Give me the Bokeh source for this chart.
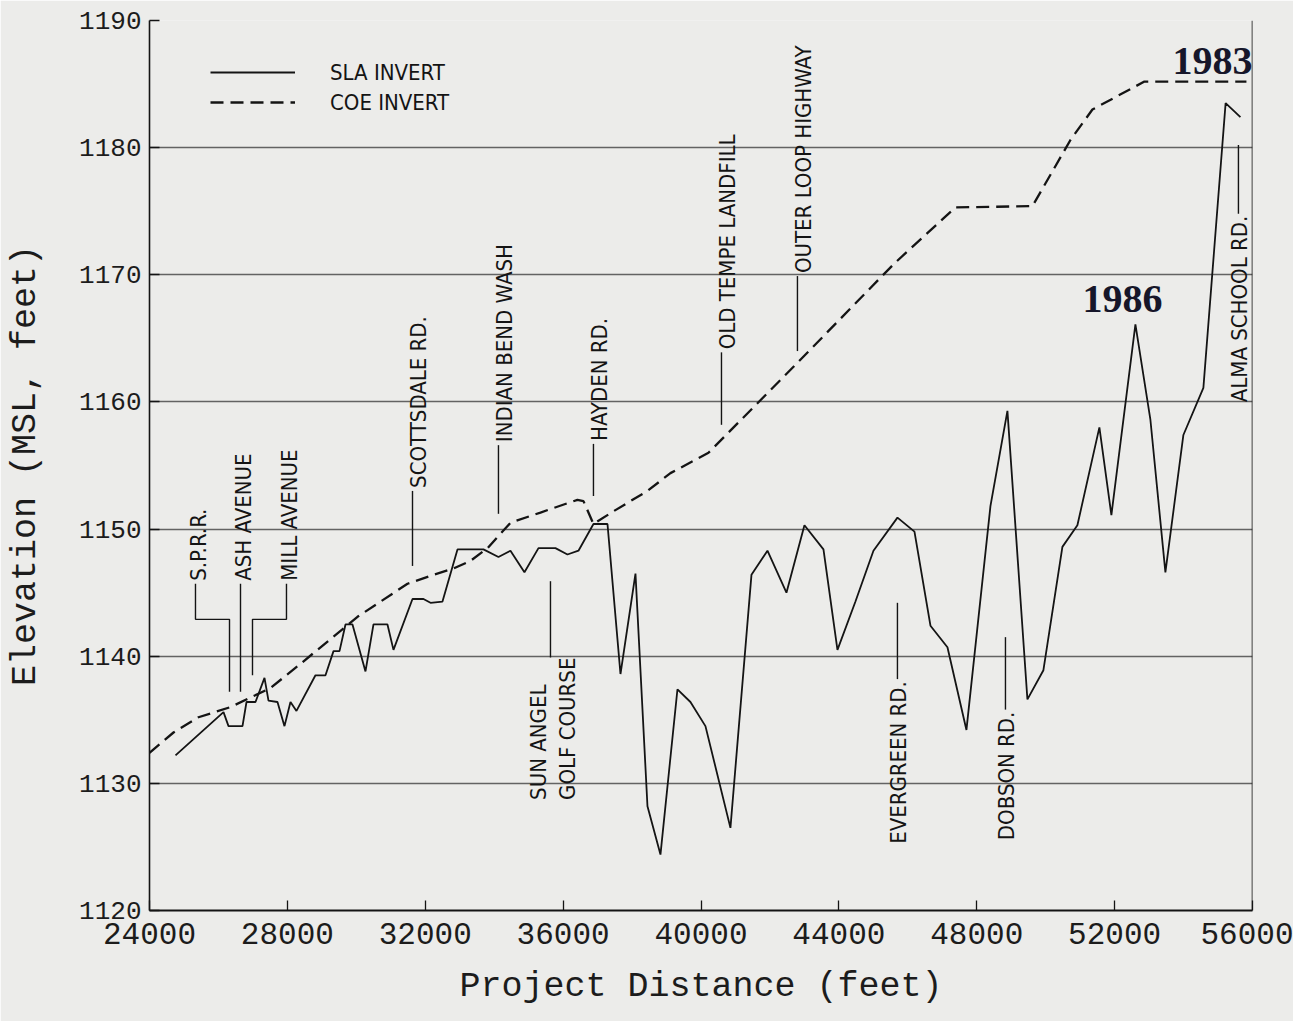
import math
from bokeh.plotting import figure
from bokeh.models import Label, Span, Legend, LegendItem, FixedTicker, Range1d
from bokeh.embed import file_html
from bokeh.resources import INLINE

# ---------------- data ----------------
sla_station = [24754, 26147, 26292, 26698, 26814, 27075, 27336, 27452, 27713, 27916,
               28090, 28264, 28815, 29106, 29338, 29512, 29686, 29889, 30266, 30498,
               30904, 31078, 31630, 31949, 32152, 32500, 32935, 33689, 34124, 34472,
               34878, 35285, 35778, 36126, 36445, 36880, 37287, 37664, 38099, 38447,
               38824, 39317, 39694, 40129, 40854, 41464, 41928, 42479, 43001, 43553,
               43959, 44481, 45003, 45700, 46193, 46657, 47150, 47701, 48397, 48890,
               49470, 49934, 50485, 50920, 51558, 51906, 52603, 53038, 53473, 53995,
               54575, 55220, 55650]
sla_elev = [1132.2, 1135.6, 1134.5, 1134.5, 1136.4, 1136.4, 1138.3, 1136.5, 1136.4, 1134.5,
            1136.4, 1135.7, 1138.5, 1138.5, 1140.4, 1140.4, 1142.5, 1142.5, 1138.8, 1142.5,
            1142.5, 1140.5, 1144.5, 1144.5, 1144.2, 1144.3, 1148.4, 1148.4, 1147.8, 1148.3,
            1146.6, 1148.5, 1148.5, 1148.0, 1148.3, 1150.4, 1150.4, 1138.6, 1146.5, 1128.2,
            1124.4, 1137.4, 1136.4, 1134.5, 1126.5, 1146.4, 1148.3, 1145.0, 1150.3, 1148.4,
            1140.5, 1144.3, 1148.3, 1150.9, 1149.8, 1142.4, 1140.7, 1134.2, 1151.8, 1159.3,
            1136.6, 1138.9, 1148.6, 1150.3, 1158.0, 1151.1, 1166.1, 1158.6, 1146.6, 1157.4,
            1161.1, 1183.5, 1182.4]

coe_station = [24000, 24696, 25421, 26350, 27510, 28380, 30034, 31485, 32239, 32819,
               33312, 33806, 34473, 35343, 36416, 36590, 36880, 37461, 38447, 39114,
               40217, 42770, 45613, 47382, 49616, 50718, 51356, 52865, 55824]
coe_elev = [1132.4, 1134.0, 1135.2, 1136.0, 1137.5, 1139.4, 1143.1, 1145.7, 1146.4, 1146.9,
            1147.5, 1148.5, 1150.5, 1151.3, 1152.3, 1152.2, 1150.4, 1151.4, 1153.0, 1154.4,
            1156.0, 1163.0, 1170.9, 1175.3, 1175.4, 1180.6, 1183.0, 1185.2, 1185.2]

x_ticks = [24000, 28000, 32000, 36000, 40000, 44000, 48000, 52000, 56000]
y_ticks = [1120, 1130, 1140, 1150, 1160, 1170, 1180, 1190]

# landmarks: name, station, leader low, leader high, side of text
landmark_names = ["SCOTTSDALE RD.", "INDIAN BEND WASH", "HAYDEN RD.", "OLD TEMPE LANDFILL",
                  "OUTER LOOP HIGHWAY", "EVERGREEN RD.", "DOBSON RD.", "ALMA SCHOOL RD."]
landmark_station = [31630, 34124, 36880, 40594, 42798, 45699, 48833, 55592]
landmark_low = [1147.1, 1151.2, 1152.6, 1158.2, 1164.0, 1138.2, 1135.8, 1174.8]
landmark_high = [1153.0, 1156.6, 1156.7, 1163.9, 1169.9, 1144.2, 1141.5, 1180.2]
landmark_side = ["above", "above", "above", "above", "above", "below", "below", "below"]

# bracketed landmarks near the start
bracket_names = ["S.P.R.R.", "ASH AVENUE", "MILL AVENUE"]
bracket_station = [26321, 26640, 26988]
bracket_label_station = [25334, 26640, 27974]
bracket_low = [1137.2, 1137.2, 1138.5]
bracket_mid = [1142.9, 1142.9, 1142.9]
bracket_top = [1145.7, 1145.7, 1145.7]

golf_names = ["SUN ANGEL", "GOLF COURSE"]
golf_station = 35633
golf_low, golf_high = 1139.9, 1145.9

# ---------------- styling ----------------
BG = "#ECECEA"
INK = "#141414"
MONO = "Liberation Mono"
NARROW = "DejaVu Sans Condensed"

p = figure(frame_width=1103, frame_height=890,
           x_range=Range1d(24000, 56000), y_range=Range1d(1120, 1190),
           output_backend="svg", toolbar_location=None,
           min_border_left=149, min_border_right=41, min_border_top=20, min_border_bottom=111,
           background_fill_color=BG, border_fill_color=BG)
p.outline_line_color = None

p.xaxis.ticker = FixedTicker(ticks=x_ticks)
p.yaxis.ticker = FixedTicker(ticks=y_ticks)
p.xaxis.minor_tick_line_color = None
p.yaxis.minor_tick_line_color = None
p.xaxis.major_tick_in = 10
p.xaxis.major_tick_out = 0
p.yaxis.major_tick_in = 10
p.yaxis.major_tick_out = 0
p.xaxis.axis_line_width = 2.2
p.yaxis.axis_line_width = 1.6
for ax in (p.xaxis, p.yaxis):
    ax.axis_line_color = INK
    ax.major_tick_line_color = INK
    ax.major_tick_line_width = 1.3
    ax.major_label_text_font = MONO
    ax.major_label_text_color = "#1c1c1c"
    ax.axis_label_text_font = MONO
    ax.axis_label_text_font_style = "normal"
    ax.axis_label_text_color = "#1c1c1c"
    ax.axis_label_text_font_size = "35px"
p.xaxis.major_label_text_font_size = "31px"
p.yaxis.major_label_text_font_size = "26px"
p.xaxis.major_label_standoff = 12
p.yaxis.major_label_standoff = 8
p.xaxis.axis_label_standoff = 20
p.yaxis.axis_label_standoff = 30
p.xaxis.axis_label = "Project Distance (feet)"
p.yaxis.axis_label = "Elevation (MSL, feet)"

p.xgrid.visible = False
p.ygrid.ticker = FixedTicker(ticks=[1130, 1140, 1150, 1160, 1170, 1180])
p.ygrid.grid_line_color = "#2a2a2a"
p.ygrid.grid_line_alpha = 0.7
p.ygrid.grid_line_width = 1.3

p.add_layout(Span(location=56000, dimension="height", line_color=INK, line_width=1.6))

# ---------------- series ----------------
r_coe = p.line(coe_station, coe_elev, line_color=INK, line_width=2.3, line_dash="13 7")
r_sla = p.line(sla_station, sla_elev, line_color=INK, line_width=1.8)

legend = Legend(items=[LegendItem(label="SLA INVERT", renderers=[r_sla]),
                       LegendItem(label="COE INVERT", renderers=[r_coe])],
                location=(61, 793), glyph_width=85, glyph_height=30, label_height=30,
                label_standoff=35, spacing=0, padding=0, margin=0,
                border_line_color=None, background_fill_alpha=0,
                label_text_font=NARROW, label_text_font_size="22px", label_text_color=INK)
p.add_layout(legend)

# ---------------- landmark annotations ----------------
LM_SIZE = "22px"
for name, st, lo, hi, side in zip(landmark_names, landmark_station, landmark_low,
                                  landmark_high, landmark_side):
    p.segment(x0=[st], y0=[lo], x1=[st], y1=[hi], line_color=INK, line_width=1.4)
    if side == "above":
        p.add_layout(Label(x=st, y=hi, text=name, angle=math.pi / 2, x_offset=6, y_offset=3,
                           text_align="left", text_baseline="middle",
                           text_font=NARROW, text_font_size=LM_SIZE, text_color=INK))
    else:
        p.add_layout(Label(x=st, y=lo, text=name, angle=math.pi / 2, x_offset=1, y_offset=-2,
                           text_align="right", text_baseline="middle",
                           text_font=NARROW, text_font_size=LM_SIZE, text_color=INK))

bx, by = [], []
for st, lst, lo, mid, top in zip(bracket_station, bracket_label_station, bracket_low,
                                 bracket_mid, bracket_top):
    if st == lst:
        bx.append([st, st]); by.append([lo, top])
    else:
        bx.append([st, st, lst, lst]); by.append([lo, mid, mid, top])
p.multi_line(bx, by, line_color=INK, line_width=1.4)
for name, lst, top in zip(bracket_names, bracket_label_station, bracket_top):
    p.add_layout(Label(x=lst, y=top, text=name, angle=math.pi / 2, x_offset=3, y_offset=3,
                       text_align="left", text_baseline="middle",
                       text_font=NARROW, text_font_size=LM_SIZE, text_color=INK))

p.segment(x0=[golf_station], y0=[golf_low], x1=[golf_station], y1=[golf_high],
          line_color=INK, line_width=1.4)
for name, dx in zip(golf_names, [-12, 17]):
    p.add_layout(Label(x=golf_station, y=1128.7, text=name, angle=math.pi / 2, x_offset=dx,
                       text_align="left", text_baseline="middle",
                       text_font=NARROW, text_font_size=LM_SIZE, text_color=INK))

# year call-outs
p.add_layout(Label(x=52230, y=1168.1, text="1986", text_align="center",
                   text_baseline="middle", text_font="Liberation Serif",
                   text_font_style="bold", text_font_size="40px", text_color="#16162a"))
p.add_layout(Label(x=54837, y=1186.8, text="1983", text_align="center",
                   text_baseline="middle", text_font="Liberation Serif",
                   text_font_style="bold", text_font_size="40px", text_color="#16162a"))

open("out.html", "w").write(file_html(p, INLINE))
